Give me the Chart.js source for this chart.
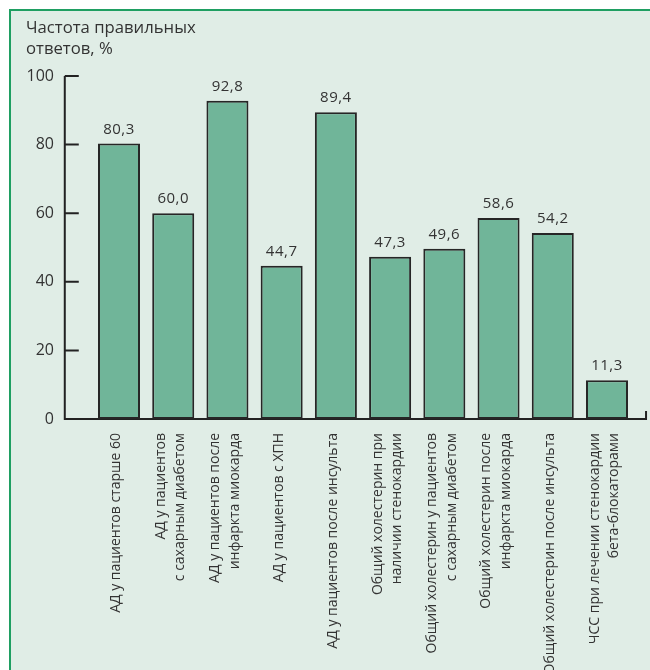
<!DOCTYPE html>
<html>
<head>
<meta charset="utf-8">
<script src="https://cdn.jsdelivr.net/npm/chart.js@4"></script>
<style>
body { margin: 0; background: #fff; }
#frame {
    position: absolute; left: 9px; top: 9px; right: 0; bottom: 0;
    border-top: 2px solid #1f9f62; border-left: 2px solid #1f9f62;
    background: #e0ede6;
}
#myChart { position: absolute; left: 0; top: 0; }
</style>
</head>
<body>
<div id="frame"></div>
<canvas id="myChart" width="650" height="670"></canvas>
<script>
var titleLines = ["Частота правильных", "ответов, %"];

var xLabels = [
    ["АД у пациентов старше 60"],
    ["АД у пациентов", "с сахарным диабетом"],
    ["АД у пациентов после", "инфаркта миокарда"],
    ["АД у пациентов с ХПН"],
    ["АД у пациентов после инсульта"],
    ["Общий холестерин при", "наличии стенокардии"],
    ["Общий холестерин у пациентов", "с сахарным диабетом"],
    ["Общий холестерин после", "инфаркта миокарда"],
    ["Общий холестерин после инсульта"],
    ["ЧСС при лечении стенокардии", "бета-блокаторами"]
];

var yValues = [80.3, 60.0, 92.8, 44.7, 89.4, 47.3, 49.6, 58.6, 54.2, 11.3];

var yMin = 0;
var yMax = 100;
var yStep = 20;

var textColor = "#333333";
var lineColor = "#222222";
var fontName = "'Open Sans', 'Noto Sans', sans-serif";

// axes are drawn by hand: y axis sits one category left of the first bar
var axesPlugin = {
    id: "axesPlugin",
    beforeDatasetsDraw: function(chart) {
        var ctx = chart.ctx;
        var xs = chart.scales.x;
        var ys = chart.scales.y;
        var pitch = xs.getPixelForTick(1) - xs.getPixelForTick(0);
        var x0 = xs.getPixelForTick(0) - pitch;
        var x1 = xs.getPixelForTick(xLabels.length - 1) + pitch * 0.72;
        var yBottom = ys.getPixelForValue(yMin);
        var yTop = ys.getPixelForValue(yMax);
        ctx.save();
        ctx.strokeStyle = lineColor;
        ctx.lineWidth = 2;
        ctx.beginPath();
        ctx.moveTo(x0, yTop);
        ctx.lineTo(x0, yBottom);
        ctx.lineTo(x1, yBottom);
        ctx.lineTo(x1, yBottom - 8);
        for (var v = yMin + yStep; v <= yMax; v += yStep) {
            var py = ys.getPixelForValue(v);
            ctx.moveTo(x0, py);
            ctx.lineTo(x0 + 14, py);
        }
        ctx.stroke();
        ctx.restore();
    },
    afterDatasetsDraw: function(chart) {
        var ctx = chart.ctx;
        var xs = chart.scales.x;
        var ys = chart.scales.y;
        var bars = chart.getDatasetMeta(0).data;
        ctx.save();
        ctx.fillStyle = textColor;

        // values above bars
        ctx.font = "15px " + fontName;
        ctx.letterSpacing = "0.5px";
        ctx.textAlign = "center";
        ctx.textBaseline = "alphabetic";
        bars.forEach(function(bar, i) {
            ctx.fillText(yValues[i].toFixed(1).replace(".", ","), bar.x, bar.y - 10);
        });

        // rotated category labels, centred under each bar
        ctx.letterSpacing = "0px";
        ctx.font = "14px " + fontName;
        ctx.textAlign = "right";
        ctx.textBaseline = "middle";
        var lineH = 19.5;
        var top = ys.getPixelForValue(yMin) + 14;
        xLabels.forEach(function(lines, i) {
            var cx = xs.getPixelForTick(i) - 2.5;
            lines.forEach(function(line, j) {
                var lx = cx + (j - (lines.length - 1) / 2) * lineH;
                ctx.save();
                ctx.translate(lx, top);
                ctx.rotate(-Math.PI / 2);
                ctx.fillText(line, 0, 0);
                ctx.restore();
            });
        });
        ctx.restore();
    }
};

new Chart("myChart", {
    type: "bar",
    data: {
        labels: xLabels,
        datasets: [{
            data: yValues,
            backgroundColor: "#70b599",
            borderColor: "#262626",
            borderWidth: 2,
            borderSkipped: false,
            categoryPercentage: 1,
            barPercentage: 0.775,
            clip: false
        }]
    },
    plugins: [axesPlugin],
    options: {
        responsive: false,
        animation: false,
        devicePixelRatio: 1,
        layout: {
            padding: {left: 26, right: 43, top: 0, bottom: 0}
        },
        plugins: {
            legend: {display: false},
            tooltip: {enabled: false},
            title: {
                display: true,
                text: titleLines,
                align: "start",
                color: textColor,
                font: {family: fontName, size: 16.7, weight: "normal", lineHeight: "20.5px"},
                padding: {top: 18, bottom: 17}
            }
        },
        scales: {
            x: {
                offset: false,
                grid: {display: false},
                border: {display: false},
                ticks: {display: false},
                afterFit: function(scale) { scale.height = 251; }
            },
            y: {
                min: yMin,
                max: yMax,
                grid: {display: false, drawTicks: false},
                border: {display: false},
                ticks: {
                    stepSize: yStep,
                    padding: 65,
                    color: textColor,
                    font: {family: fontName, size: 16}
                },
                afterFit: function(scale) { scale.width = 93; }
            }
        }
    }
});
</script>
</body>
</html>
